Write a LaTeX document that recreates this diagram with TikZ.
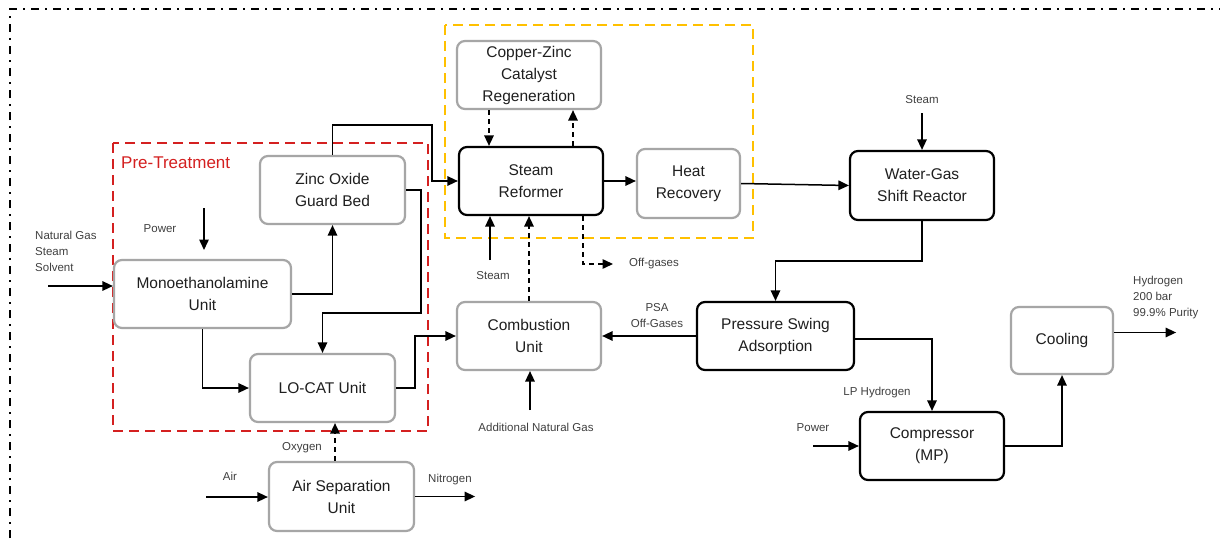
\documentclass[tikz,border=0pt]{standalone}
\usepackage{fontspec}
\setmainfont{Liberation Sans}
\usetikzlibrary{arrows.meta}
\definecolor{txt}{HTML}{1F1F1F}
\definecolor{lbl}{HTML}{404040}
\definecolor{greyline}{HTML}{A6A6A6}
\definecolor{ptred}{HTML}{D42020}
\definecolor{srgold}{HTML}{FFC000}
\begin{document}
\begin{tikzpicture}[x=1pt,y=-1pt,
  unit/.style={rounded corners=8pt, line width=2.2pt, align=center, text=txt,
    font=\fontsize{15.5}{22}\selectfont, inner sep=0pt},
  mainunit/.style={unit, draw=black},
  auxunit/.style={unit, draw=greyline},
  flow/.style={line width=1.5pt, -{Triangle[length=10.5pt,width=9.5pt]}},
  dflow/.style={flow, dash pattern=on 5pt off 4pt},
  tag/.style={text=lbl, font=\fontsize{11.5}{16}\selectfont, inner sep=0pt},
  zone/.style={line width=2.2pt, dash pattern=on 10pt off 6pt}]
\useasboundingbox (0,0) rectangle (1220,543);
\fill[white] (0,0) rectangle (1220,543);
% dash-dot frame around the whole flowsheet
\draw[line width=2pt, dash pattern=on 8pt off 6pt on 2pt off 6pt] (10,560) -- (10,9) -- (1240,9);

% groups
\draw[zone, draw=ptred] (113,143) rectangle (428,431);
\node[anchor=west, text=ptred, font=\fontsize{17}{20}\selectfont, inner sep=0pt] (ptlbl) at (121,163) {Pre-Treatment};
\draw[zone, draw=srgold] (445,25) rectangle (753,238);

% process units
\node[auxunit, minimum width=144pt, minimum height=68pt] (cz) at (529,75) {Copper-Zinc\\Catalyst\\Regeneration};
\node[mainunit, minimum width=144pt, minimum height=68pt] (sr) at (531,181) {Steam\\Reformer};
\node[auxunit, minimum width=103pt, minimum height=69pt] (hr) at (688.5,183.5) {Heat\\Recovery};
\node[mainunit, minimum width=144pt, minimum height=69pt] (wgs) at (922,185.5) {Water-Gas\\Shift Reactor};
\node[mainunit, minimum width=157pt, minimum height=68pt] (psa) at (775.5,336) {Pressure Swing\\Adsorption};
\node[auxunit, minimum width=144pt, minimum height=68pt] (cu) at (529,336) {Combustion\\Unit};
\node[auxunit, minimum width=145pt, minimum height=68pt] (zno) at (332.5,190) {Zinc Oxide\\Guard Bed};
\node[auxunit, minimum width=177pt, minimum height=68pt] (mea) at (202.5,294) {Monoethanolamine\\Unit};
\node[auxunit, minimum width=145pt, minimum height=68pt] (lc) at (322.5,388) {LO-CAT Unit};
\node[auxunit, minimum width=145pt, minimum height=69pt] (asu) at (341.5,496.5) {Air Separation\\Unit};
\node[mainunit, minimum width=144pt, minimum height=68pt] (comp) at (932,446) {Compressor\\(MP)};
\node[auxunit, minimum width=102pt, minimum height=67pt] (cool) at (1062,340.5) {Cooling};

% stream labels
\node[tag, anchor=north west, align=left] (feedlbl) at (35,231) {Natural Gas\\Steam\\Solvent};
\node[tag] (pw1lbl) at (160,229) {Power};
\node[tag] (stm1lbl) at (493,276) {Steam};
\node[tag, anchor=west] (oglbl) at (629,264) {Off-gases};
\node[tag, align=center] (psaoglbl) at (657,316) {PSA\\Off-Gases};
\node[tag] (anglbl) at (536,427) {Additional Natural Gas};
\node[tag] (oxlbl) at (302,448) {Oxygen};
\node[tag] (airlbl) at (230,476) {Air};
\node[tag, anchor=west] (n2lbl) at (428,480) {Nitrogen};
\node[tag] (stm2lbl) at (922,100) {Steam};
\node[tag] (lplbl) at (877,393) {LP Hydrogen};
\node[tag] (pw2lbl) at (813,428) {Power};
\node[tag, anchor=north west, align=left] (h2lbl) at (1133,276) {Hydrogen\\200 bar\\99.9\% Purity};

% free stream ends
\coordinate (feedin) at (48,286);
\coordinate (pw1a) at (204,208);
\coordinate (pw1b) at (204,250);
\coordinate (stm1) at (490,260);
\coordinate (ogx) at (583,264);
\coordinate (ogend) at (613,264);
\coordinate (czdn) at (489,0);
\coordinate (czup) at (573,0);
\coordinate (oxx) at (335,0);
\coordinate (airin) at (206,497);
\coordinate (stm2) at (922,113);
\coordinate (pw2) at (813,446);
\coordinate (angin) at (530,410);
\coordinate (ztop) at (432,125);
\coordinate (zside) at (421,313);
\coordinate (lcside) at (415,336);

% pre-treatment streams
\draw[flow] (feedin) -- (feedin -| mea.west);
\draw[flow] (pw1a) -- (pw1b);
\draw[flow] (mea.east) -| (zno.south);
\draw[flow] (mea.south) |- (lc.west);
\draw[flow] (zno.north) |- (ztop) |- (sr.west);
\draw[flow] (zno.east) -| (zside) -| (lc.north);
\draw[flow] (lc.east) -| (lcside) -- (cu.west);
\draw[dflow] (asu.north -| oxx) -- (lc.south -| oxx);
\draw[flow] (airin) -- (airin -| asu.west);
\draw[flow] (asu.east) -- ++(60,0);

% reforming section
\draw[dflow] (cz.south -| czdn) -- (sr.north -| czdn);
\draw[dflow] (sr.north -| czup) -- (cz.south -| czup);
\draw[flow] (stm1) -- (stm1 |- sr.south);
\draw[dflow] (cu.north) -- (cu.north |- sr.south);
\draw[dflow] (sr.south -| ogx) |- (ogend);
\draw[flow] (sr.east) -- (sr.east -| hr.west);
\draw[flow] (hr.east) -- (wgs.west);
\draw[flow] (stm2) -- (wgs.north);
\draw[flow] (angin) -- (angin |- cu.south);

% purification and compression
\draw[flow] (wgs.south) -- ++(0,40) -| (psa.north);
\draw[flow] (psa.west) -- (cu.east);
\draw[flow] ([yshift=-3pt]psa.east) -| (comp.north);
\draw[flow] (pw2) -- (comp.west);
\draw[flow] (comp.east) -| (cool.south);
\draw[flow] ([yshift=8pt]cool.east) -- ++(62,0);
\end{tikzpicture}
\end{document}
